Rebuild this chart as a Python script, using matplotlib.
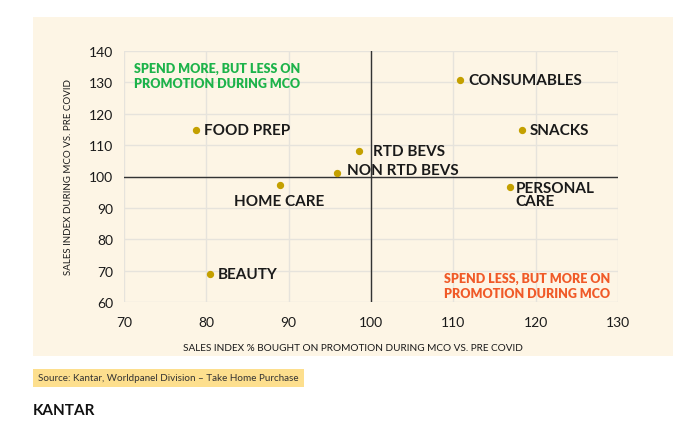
import matplotlib.pyplot as plt
from matplotlib.patches import Rectangle

plt.rcParams['font.family'] = ['Lato', 'DejaVu Sans']

# data
categories = ['FOOD PREP', 'HOME CARE', 'NON RTD BEVS', 'RTD BEVS',
              'CONSUMABLES', 'SNACKS', 'PERSONAL\nCARE', 'BEAUTY']
promo_index = [78.7, 88.9, 95.9, 98.6, 110.8, 118.3, 116.9, 80.4]
sales_index = [114.8, 97.4, 101.1, 108.0, 130.6, 114.8, 96.8, 68.9]
# label offsets in points (dx, dy) and alignment
offsets = [(6, 0, 'left', 'center'), (0, -12, 'center', 'center'),
           (7, 2, 'left', 'center'), (10, 0, 'left', 'center'),
           (6, 0, 'left', 'center'), (6, 0, 'left', 'center'),
           (4, -6, 'left', 'center'), (6, 0, 'left', 'center')]

xticks = [70, 80, 90, 100, 110, 120, 130]
yticks = [60, 70, 80, 90, 100, 110, 120, 130, 140]

cream = '#fdf5e5'
dot = '#c4a000'
text_col = '#1a1a1a'

fig = plt.figure(figsize=(7, 4.35), dpi=100)
fig.patch.set_facecolor('white')
fig.patches.append(Rectangle((33 / 700, 1 - 357 / 435), 640 / 700, 339 / 435,
                             transform=fig.transFigure, facecolor=cream,
                             edgecolor='none', zorder=-5))

ax = fig.add_axes([124 / 700, 1 - 303 / 435, 494 / 700, 251 / 435])
ax.set_facecolor(cream)
ax.set_xlim(70, 130)
ax.set_ylim(60, 140)
ax.set_xticks(xticks)
ax.set_yticks(yticks)
ax.grid(True, color='#e6e3dc', linewidth=1)
ax.set_axisbelow(True)
for s in ax.spines.values():
    s.set_visible(False)
ax.tick_params(length=0, labelsize=10, colors=text_col, pad=8)
ax.tick_params(axis='x', pad=10)

ax.axvline(100, color='#333333', linewidth=1)
ax.axhline(100, color='#333333', linewidth=1)

ax.scatter(promo_index, sales_index, s=18, color=dot, zorder=3)
for name, x, y, (dx, dy, ha, va) in zip(categories, promo_index, sales_index, offsets):
    ax.annotate(name, (x, y), xytext=(dx, dy), textcoords='offset points',
                ha=ha, va=va, fontsize=11, fontweight='bold', color=text_col,
                linespacing=0.9)

ax.text(71.2, 136.5, 'SPEND MORE, BUT LESS ON\nPROMOTION DURING MCO',
        color='#1db34a', fontsize=9, fontweight='heavy', va='top', ha='left',
        linespacing=1.3)
ax.text(129, 69.5, 'SPEND LESS, BUT MORE ON\nPROMOTION DURING MCO',
        color='#f05a28', fontsize=9, fontweight='heavy', va='top', ha='right',
        linespacing=1.3)

ax.set_xlabel('SALES INDEX % BOUGHT ON PROMOTION DURING MCO VS. PRE COVID',
              fontsize=7.2, color=text_col)
ax.xaxis.set_label_coords((353 - 124) / 494, -0.163)
ax.set_ylabel('SALES INDEX DURING MCO VS. PRE COVID', fontsize=7.0,
              color=text_col)
ax.yaxis.set_label_coords((73 - 124) / 494, 0.5)

fig.text(38 / 700, 1 - 379 / 435, 'Source: Kantar, Worldpanel Division – Take Home Purchase',
         fontsize=7.1, color='#333333', va='center', ha='left',
         bbox=dict(boxstyle='square,pad=0.5', facecolor='#fddf8e', edgecolor='none'))
fig.text(33 / 700, 1 - 411 / 435, 'KANTAR', fontsize=11, fontweight='bold',
         color='#111111', va='center', ha='left')

fig.savefig('out.png', dpi=100)
